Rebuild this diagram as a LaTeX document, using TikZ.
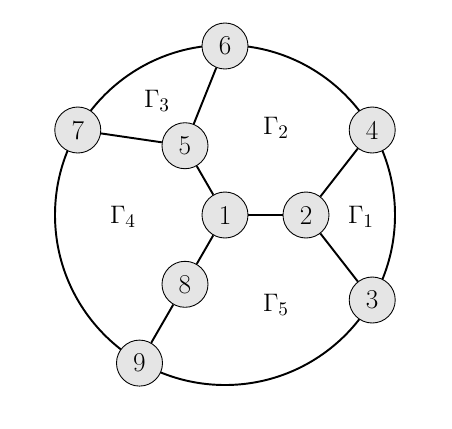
\documentclass[tikz,border=0pt]{standalone}
\usepackage{tikz}
\usetikzlibrary{positioning}
\tikzstyle{vertex} = [circle, draw, fill=gray!20, line width=0.5pt, minimum size=0.92cm, inner sep=0pt, font=\fontsize{15.5}{18}\selectfont]
\tikzstyle{face} = [font=\fontsize{15.5}{18}\selectfont]
\begin{document}
\begin{tikzpicture}[line width=1.1pt]
        \useasboundingbox (-4.5,-4.26) rectangle (4.54,4.3);
        \draw (0,0) circle (3.4cm);

        \node[vertex] (v1) at (0,0) {1};
        \node[vertex, right of=v1, node distance=1.62cm] (v2) {2};
        \node[vertex] (v5) at (120:1.6) {5};
        \node[vertex] (v8) at (240:1.6) {8};

        \node[vertex] (v6) at (90:3.38) {6};
        \node[vertex] (v4) at (30:3.4) {4};
        \node[vertex] (v3) at (-30:3.4) {3};
        \node[vertex] (v9) at (240:3.42) {9};
        \node[vertex] (v7) at (150:3.4) {7};

        \node[face] (g1) at (2.72,-0.04) {$\Gamma_1$};
        \node[face] (g2) at (1.02,1.74) {$\Gamma_2$};
        \node[face] (g3) at (-1.36,2.28) {$\Gamma_3$};
        \node[face] (g4) at (-2.04,-0.04) {$\Gamma_4$};
        \node[face] (g5) at (1.02,-1.8) {$\Gamma_5$};

        \draw (v1) -- (v2);
        \draw (v1) -- (v5);
        \draw (v1) -- (v8);
        \draw (v5) -- (v6);
        \draw (v5) -- (v7);
        \draw (v2) -- (v4);
        \draw (v2) -- (v3);
        \draw (v8) -- (v9);
    \end{tikzpicture}
\end{document}
